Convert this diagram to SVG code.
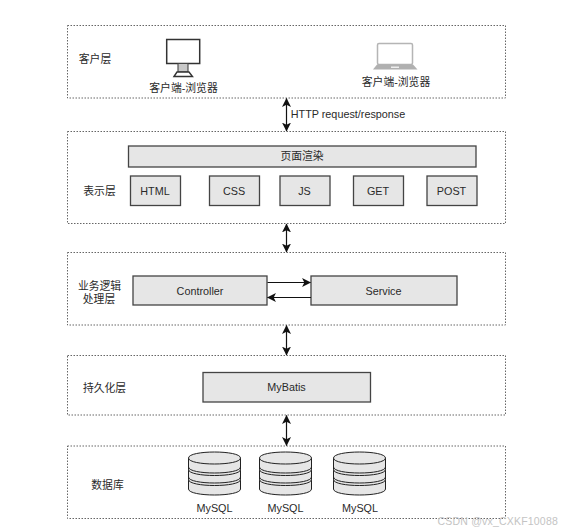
<svg xmlns="http://www.w3.org/2000/svg" width="562" height="532" viewBox="0 0 562 532">
<style>
text{font-family:"Liberation Sans","Noto Sans CJK SC",sans-serif;font-size:10.800px;fill:#2a2a2a;text-anchor:middle}
.layer{fill:#fff;stroke:#666;stroke-width:1;stroke-dasharray:1.500 1.500}
.box{fill:#e6e6e6;stroke:#444;stroke-width:1.300}
.conn{fill:none;stroke:#111;stroke-width:1.200}
.cyl{fill:#e6e6e6;stroke:#222;stroke-width:1}
</style>
<defs>
<marker id="a" viewBox="0 0 8 8" refX="7.500" refY="4" markerWidth="9" markerHeight="9" markerUnits="userSpaceOnUse" orient="auto-start-reverse"><path d="M0 0L8 4L0 8L2 4Z" fill="#111"/></marker>
<g id="db">
<path class="cyl" d="M0 6C0 -2 52 -2 52 6V37C52 45 0 45 0 37Z"/>
<path class="cyl" fill="none" d="M0 6C0 14 52 14 52 6"/>
<path class="cyl" d="M0 15C0 23 52 23 52 15V17.500C52 25.500 0 25.500 0 17.500Z"/>
<path class="cyl" d="M0 25C0 33 52 33 52 25V27.500C52 35.500 0 35.500 0 27.500Z"/>
</g>
</defs>
<rect width="562" height="532" fill="#fff"/>
<g id="layer-client">
<rect class="layer" x="67.500" y="25.500" width="438" height="72.500"/>
<text x="95" y="62.500">客户层</text>
<g id="monitor">
<rect x="166.700" y="39.500" width="33" height="24" fill="#fff" stroke="#333" stroke-width="1.500"/>
<path d="M178 63.500H188V72H178Z" fill="#c8c8c8" stroke="#444" stroke-width="1.100"/>
<path d="M174 76.500L177 72H189L192.500 76.500Z" fill="#fff" stroke="#333" stroke-width="1.400"/>
</g>
<text x="183.500" y="91.500">客户端-浏览器</text>
<g id="laptop">
<rect x="377.500" y="43.500" width="35" height="21" rx="1.500" fill="#fff" stroke="#b5b5b5" stroke-width="1.500"/>
<path d="M373 69.500L377 64.500H413L417.500 69.500Z" fill="#b0b0b0"/>
<rect x="391" y="66.500" width="8" height="1.500" fill="#eee"/>
</g>
<text x="396" y="85.500">客户端-浏览器</text>
</g>
<g id="layer-presentation">
<rect class="layer" x="67.500" y="131.500" width="438" height="92"/>
<text x="99.500" y="194.500">表示层</text>
<g id="render"><rect class="box" x="128.500" y="146" width="347.500" height="21"/><text x="302" y="160">页面渲染</text></g>
<g id="html"><rect class="box" x="130.500" y="176" width="50" height="29.500"/><text x="155" y="194.500">HTML</text></g>
<g id="css"><rect class="box" x="209.500" y="176" width="50" height="29.500"/><text x="234" y="194.500">CSS</text></g>
<g id="js"><rect class="box" x="280" y="176" width="50" height="29.500"/><text x="304.500" y="194.500">JS</text></g>
<g id="get"><rect class="box" x="353.500" y="176" width="50" height="29.500"/><text x="378" y="194.500">GET</text></g>
<g id="post"><rect class="box" x="427" y="176" width="50" height="29.500"/><text x="451.500" y="194.500">POST</text></g>
</g>
<g id="layer-logic">
<rect class="layer" x="67.500" y="252.500" width="438" height="72.500"/>
<text x="99.500" y="289.500">业务逻辑</text>
<text x="99" y="302.500">处理层</text>
<g id="controller"><rect class="box" x="133" y="276" width="134" height="29"/><text x="200" y="294.500">Controller</text></g>
<g id="service"><rect class="box" x="311" y="276" width="146" height="29"/><text x="383.500" y="294.500">Service</text></g>
</g>
<g id="layer-persistence">
<rect class="layer" x="67.500" y="355.500" width="438" height="59.500"/>
<text x="104.500" y="392">持久化层</text>
<g id="mybatis"><rect class="box" x="203" y="372.500" width="167.500" height="29.500"/><text x="286.500" y="391">MyBatis</text></g>
</g>
<g id="layer-db">
<rect class="layer" x="67.500" y="446" width="438" height="72.500"/>
<text x="107.500" y="489">数据库</text>
<g id="db1"><use href="#db" x="188.500" y="452"/><text x="214.500" y="512">MySQL</text></g>
<g id="db2"><use href="#db" x="259.500" y="452"/><text x="285.500" y="512">MySQL</text></g>
<g id="db3"><use href="#db" x="333.500" y="452"/><text x="360" y="512">MySQL</text></g>
</g>
<g id="connectors">
<path class="conn" d="M286.500 98.500V131" marker-start="url(#a)" marker-end="url(#a)"/>
<path class="conn" d="M286.500 224V252" marker-start="url(#a)" marker-end="url(#a)"/>
<path class="conn" d="M286.500 325.500V355" marker-start="url(#a)" marker-end="url(#a)"/>
<path class="conn" d="M286.500 415.500V445.500" marker-start="url(#a)" marker-end="url(#a)"/>
<path class="conn" d="M267.500 282.500H310.500" marker-end="url(#a)"/>
<path class="conn" d="M311 297.500H267.500" marker-end="url(#a)"/>
</g>
<text x="348" y="118">HTTP request/response</text>
<text x="558" y="525" style="font-size:10.500px;fill:#c4c4c4;text-anchor:end;letter-spacing:.2px">CSDN @vx_CXKF10088</text>
</svg>
